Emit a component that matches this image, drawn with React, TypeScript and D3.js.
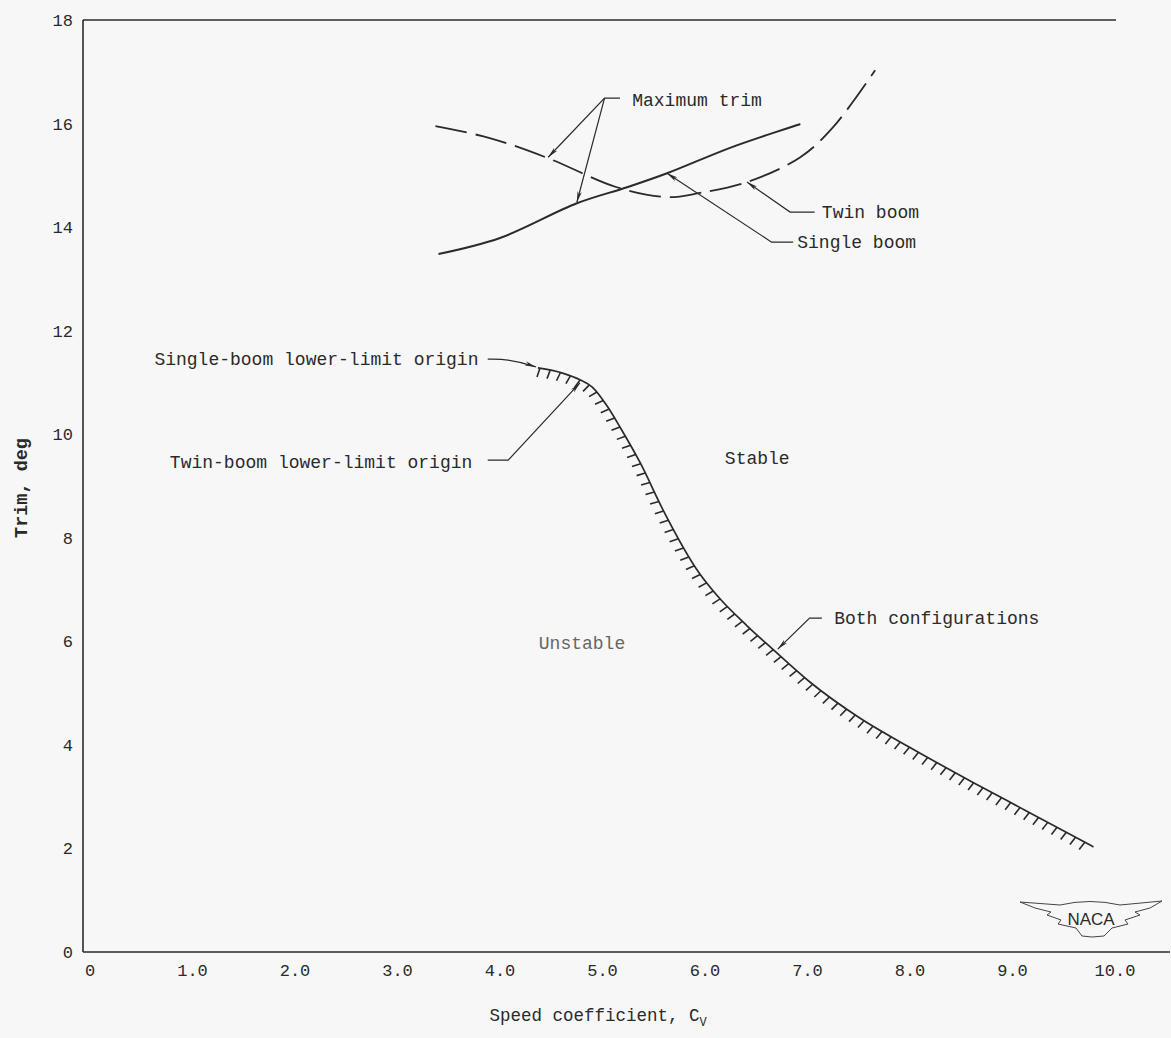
import * as d3 from "d3";
import { useRef, useEffect } from "react";

// chart values (speed coefficient vs trim, deg)
const xTicks = [0, 1, 2, 3, 4, 5, 6, 7, 8, 9, 10];
const xTickLabels = ["0", "1.0", "2.0", "3.0", "4.0", "5.0", "6.0", "7.0", "8.0", "9.0", "10.0"];
const yTicks = [0, 2, 4, 6, 8, 10, 12, 14, 16, 18];

const twinX = [3.37, 3.9, 4.47, 5.14, 5.63, 5.95, 6.41, 6.93, 7.25, 7.66];
const twinY = [15.95, 15.72, 15.33, 14.77, 14.58, 14.66, 14.87, 15.35, 15.93, 17.03];

const singleX = [3.4, 4.0, 4.75, 5.24, 5.63, 6.27, 6.93];
const singleY = [13.48, 13.79, 14.46, 14.77, 15.04, 15.55, 15.99];

const lowerX = [4.37, 4.61, 4.78, 4.9, 5.05, 5.17, 5.37, 5.59, 5.95, 6.12, 6.41, 6.66, 7.02, 7.51, 8.0, 8.61, 9.14, 9.79];
const lowerY = [11.28, 11.18, 11.05, 10.91, 10.53, 10.14, 9.44, 8.54, 7.3, 6.88, 6.3, 5.85, 5.22, 4.52, 3.95, 3.28, 2.72, 2.03];

const W = 1171;
const H = 1038;
const FONT = "'Liberation Mono', 'Courier New', monospace";
const INK = "#2a2a2a";

const zip = (xs: number[], ys: number[]) => xs.map((v, i) => [v, ys[i]] as [number, number]);

function App() {
  const lowerRef = useRef<SVGPathElement>(null);
  const hatchRef = useRef<SVGGElement>(null);

  const x = d3.scaleLinear().domain([0, 10]).range([90, 1115]);
  const y = d3.scaleLinear().domain([0, 18]).range([952, 20]);

  const line = d3.line<[number, number]>()
    .x(d => x(d[0]))
    .y(d => y(d[1]))
    .curve(d3.curveCatmullRom.alpha(0.5));

  const smooth = d3.line<[number, number]>()
    .x(d => x(d[0]))
    .y(d => y(d[1]))
    .curve(d3.curveMonotoneX);

  const left = 83;

  useEffect(() => {
    const path = lowerRef.current;
    if (!path) return;
    const len = path.getTotalLength();
    const g = d3.select(hatchRef.current);
    g.selectAll("*").remove();
    const step = 10.5;
    const tick = 9;
    for (let s = 2; s < len; s += step) {
      const p = path.getPointAtLength(s);
      const a = path.getPointAtLength(Math.max(0, s - 1));
      const b = path.getPointAtLength(Math.min(len, s + 1));
      let dx = b.x - a.x;
      let dy = b.y - a.y;
      const n = Math.hypot(dx, dy) || 1;
      dx /= n;
      dy /= n;
      g.append("line")
        .attr("x1", p.x)
        .attr("y1", p.y)
        .attr("x2", p.x - dy * tick - dx * 1.5)
        .attr("y2", p.y + dx * tick - dy * 1.5)
        .attr("stroke", INK)
        .attr("stroke-width", 1.6);
    }
  }, []);

  // leader lines: [from, knee, tip] in data units
  const leader = (pts: [number, number][]) =>
    pts.map((p, i) => `${i ? "L" : "M"}${x(p[0])},${y(p[1])}`).join("");

  return (
    <div style={{ position: "absolute", left: 0, top: 0 }}>
      <svg width={W} height={H} style={{ display: "block", background: "#f7f7f7" }}>
        <defs>
          <marker id="arr" markerUnits="userSpaceOnUse" markerWidth="12" markerHeight="6"
            refX="11" refY="3" orient="auto">
            <path d="M0,0.8 L11,3 L0,5.2 L3,3 z" fill={INK} />
          </marker>
        </defs>

        {/* frame */}
        <g stroke={INK} strokeWidth={1.6} fill="none">
          <line x1={left} y1={y(18)} x2={1116} y2={y(18)} />
          <line x1={left} y1={y(18)} x2={left} y2={y(0)} />
          <line x1={left} y1={y(0)} x2={1170} y2={y(0)} />
        </g>

        {/* tick labels */}
        <g fontFamily={FONT} fontSize={17} fill={INK}>
          {xTicks.map((t, i) => (
            <text key={t} x={x(t)} y={y(0) + 24} textAnchor="middle">{xTickLabels[i]}</text>
          ))}
          {yTicks.map(t => (
            <text key={t} x={73} y={y(t) + 6} textAnchor="end">{t}</text>
          ))}
        </g>

        {/* axis titles */}
        <text x={598} y={1021} textAnchor="middle" fontFamily={FONT} fontSize={17.5} fill={INK}>
          Speed coefficient, C<tspan fontSize={12} dy={5}>V</tspan>
        </text>
        <text transform="translate(27,488) rotate(-90)" textAnchor="middle"
          fontFamily={FONT} fontSize={18.5} fontWeight="bold" fill={INK}>
          Trim, deg
        </text>

        {/* curves */}
        <path d={line(zip(twinX, twinY)) || ""} fill="none" stroke={INK} strokeWidth={1.8}
          strokeDasharray="32,9" />
        <path d={line(zip(singleX, singleY)) || ""} fill="none" stroke={INK} strokeWidth={2} />
        <path ref={lowerRef} d={smooth(zip(lowerX, lowerY)) || ""} fill="none" stroke={INK}
          strokeWidth={1.7} />
        <g ref={hatchRef} />

        {/* annotations */}
        <g fill="none" stroke={INK} strokeWidth={1.2}>
          <path d={leader([[5.17, 16.49], [5.02, 16.49], [4.47, 15.35]])} markerEnd="url(#arr)" />
          <path d={leader([[5.02, 16.49], [4.75, 14.48]])} markerEnd="url(#arr)" />
          <path d={leader([[7.07, 14.29], [6.83, 14.29], [6.41, 14.87]])} markerEnd="url(#arr)" />
          <path d={leader([[6.86, 13.71], [6.65, 13.71], [5.63, 15.04]])} markerEnd="url(#arr)" />
          <path d={`M${x(3.88)},${y(11.45)} Q${x(4.1)},${y(11.47)} ${x(4.35)},${y(11.3)}`}
            markerEnd="url(#arr)" />
          <path d={leader([[3.88, 9.5], [4.08, 9.5], [4.78, 10.99]])} markerEnd="url(#arr)" />
          <path d={leader([[7.14, 6.45], [7.02, 6.45], [6.71, 5.85]])} markerEnd="url(#arr)" />
        </g>

        <g fontFamily={FONT} fontSize={18} fill={INK}>
          <text x={x(5.29)} y={y(16.45) + 6}>Maximum trim</text>
          <text x={x(7.14)} y={y(14.29) + 6}>Twin boom</text>
          <text x={x(6.9)} y={y(13.71) + 6}>Single boom</text>
          <text x={x(3.79)} y={y(11.45) + 6} textAnchor="end">Single-boom lower-limit origin</text>
          <text x={x(3.73)} y={y(9.47) + 6} textAnchor="end">Twin-boom lower-limit origin</text>
          <text x={x(7.26)} y={y(6.45) + 6}>Both configurations</text>
          <text x={x(6.51)} y={y(9.54) + 6} textAnchor="middle">Stable</text>
          <text x={x(4.8)} y={y(5.97) + 6} textAnchor="middle" fill="#666">Unstable</text>
        </g>

        {/* NACA wings */}
        <g transform="translate(1020,900)">
          <path d="M0,2 L40,5 Q70,-2 100,5 L142,1 L130,8 L115,12 L120,15 L105,20 L108,24 L92,28 L84,36 L72,37 L62,36 L56,28 L38,24 L41,20 L27,15 L31,12 L15,8 Z"
            fill="none" stroke="#444" strokeWidth={1} />
          <text x={71} y={25} textAnchor="middle" fontFamily="'Liberation Sans', Arial, sans-serif"
            fontSize={17} fill={INK}>NACA</text>
        </g>
      </svg>
    </div>
  );
}

export default App;
